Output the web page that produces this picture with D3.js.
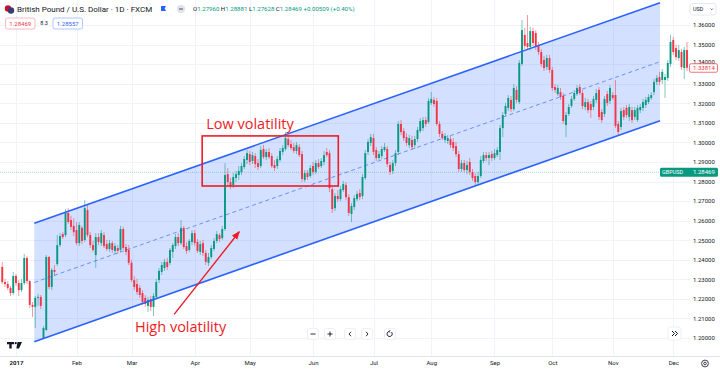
<!DOCTYPE html>
<html>
<head>
<meta charset="utf-8">
<script src="https://cdn.jsdelivr.net/npm/d3@7"></script>
<style>
	html, body { margin: 0; padding: 0; background: #fff; }
	svg { display: block; font-family: Roboto, "Noto Sans", sans-serif; }
</style>
</head>
<body>
<svg id="chart" width="720" height="371"></svg>
<script>
// GBPUSD daily bars, one per trading day, Dec 26 2016 .. Dec 8 2017
var opens = [
	1.2363, 1.2286, 1.2276, 1.2256, 1.2230, 1.2317, 1.2281, 1.2245, 1.2281, 1.2409,
	1.2291, 1.2169, 1.2159, 1.2205, 1.2210, 1.2000, 1.2041, 1.2414, 1.2261, 1.2348,
	1.2378, 1.2475, 1.2531, 1.2526, 1.2639, 1.2603, 1.2573, 1.2552, 1.2485, 1.2563,
	1.2501, 1.2654, 1.2526, 1.2475, 1.2424, 1.2516, 1.2485, 1.2526, 1.2480, 1.2455,
	1.2485, 1.2445, 1.2460, 1.2450, 1.2557, 1.2465, 1.2450, 1.2384, 1.2296, 1.2276,
	1.2256, 1.2230, 1.2205, 1.2164, 1.2199, 1.2159, 1.2210, 1.2296, 1.2338, 1.2358,
	1.2389, 1.2384, 1.2440, 1.2470, 1.2516, 1.2485, 1.2563, 1.2470, 1.2450, 1.2491,
	1.2536, 1.2491, 1.2440, 1.2485, 1.2435, 1.2384, 1.2414, 1.2455, 1.2496, 1.2526,
	1.2511, 1.2557, 1.2838, 1.2797, 1.2782, 1.2818, 1.2833, 1.2849, 1.2874, 1.2910,
	1.2940, 1.2905, 1.2930, 1.2894, 1.2879, 1.2966, 1.2925, 1.2951, 1.2930, 1.2884,
	1.2879, 1.2910, 1.2951, 1.2966, 1.3017, 1.2991, 1.2976, 1.2956, 1.2976, 1.2940,
	1.2808, 1.2843, 1.2828, 1.2879, 1.2849, 1.2894, 1.2879, 1.2900, 1.2951, 1.2945,
	1.2761, 1.2664, 1.2726, 1.2710, 1.2756, 1.2782, 1.2720, 1.2634, 1.2670, 1.2710,
	1.2741, 1.2726, 1.2818, 1.2951, 1.2997, 1.3022, 1.2961, 1.2920, 1.2930, 1.2961,
	1.2966, 1.2884, 1.2854, 1.2894, 1.2951, 1.3094, 1.3058, 1.3027, 1.2986, 1.3012,
	1.2986, 1.3017, 1.3058, 1.3073, 1.3114, 1.3104, 1.3201, 1.3217, 1.3212, 1.3094,
	1.3043, 1.3012, 1.3007, 1.3017, 1.3002, 1.2981, 1.2940, 1.2864, 1.2894, 1.2859,
	1.2900, 1.2849, 1.2828, 1.2797, 1.2828, 1.2905, 1.2935, 1.2920, 1.2940, 1.2920,
	1.2935, 1.2951, 1.3073, 1.3145, 1.3176, 1.3217, 1.3170, 1.3268, 1.3206, 1.3401,
	1.3549, 1.3508, 1.3488, 1.3569, 1.3559, 1.3498, 1.3462, 1.3421, 1.3385, 1.3431,
	1.3370, 1.3283, 1.3247, 1.3257, 1.3237, 1.3089, 1.3145, 1.3186, 1.3222, 1.3247,
	1.3283, 1.3252, 1.3181, 1.3206, 1.3196, 1.3181, 1.3217, 1.3268, 1.3155, 1.3145,
	1.3247, 1.3212, 1.3242, 1.3242, 1.3094, 1.3079, 1.3165, 1.3176, 1.3130, 1.3165,
	1.3130, 1.3114, 1.3165, 1.3176, 1.3191, 1.3206, 1.3227, 1.3257, 1.3309, 1.3334,
	1.3319, 1.3319, 1.3329, 1.3401, 1.3523, 1.3482, 1.3431, 1.3462, 1.3380, 1.3472
];
var highs = [
	1.2389, 1.2302, 1.2291, 1.2266, 1.2338, 1.2328, 1.2296, 1.2302, 1.2430, 1.2419,
	1.2296, 1.2184, 1.2215, 1.2225, 1.2220, 1.2061, 1.2424, 1.2419, 1.2358, 1.2373,
	1.2526, 1.2536, 1.2541, 1.2659, 1.2664, 1.2624, 1.2613, 1.2593, 1.2593, 1.2573,
	1.2705, 1.2680, 1.2541, 1.2496, 1.2536, 1.2536, 1.2552, 1.2541, 1.2501, 1.2501,
	1.2496, 1.2485, 1.2475, 1.2573, 1.2568, 1.2480, 1.2475, 1.2399, 1.2317, 1.2302,
	1.2271, 1.2245, 1.2220, 1.2210, 1.2215, 1.2230, 1.2302, 1.2358, 1.2389, 1.2404,
	1.2409, 1.2460, 1.2485, 1.2531, 1.2536, 1.2603, 1.2573, 1.2491, 1.2506, 1.2552,
	1.2552, 1.2506, 1.2496, 1.2501, 1.2450, 1.2435, 1.2475, 1.2511, 1.2547, 1.2536,
	1.2573, 1.2894, 1.2869, 1.2818, 1.2843, 1.2854, 1.2879, 1.2894, 1.2930, 1.2961,
	1.2956, 1.2951, 1.2945, 1.2915, 1.2981, 1.2986, 1.2966, 1.2971, 1.2945, 1.2910,
	1.2930, 1.2971, 1.2986, 1.3053, 1.3038, 1.3012, 1.2997, 1.3002, 1.2991, 1.2956,
	1.2859, 1.2859, 1.2884, 1.2900, 1.2910, 1.2915, 1.2920, 1.2956, 1.2971, 1.2961,
	1.2777, 1.2741, 1.2756, 1.2777, 1.2803, 1.2797, 1.2736, 1.2690, 1.2731, 1.2751,
	1.2761, 1.2838, 1.2961, 1.3017, 1.3043, 1.3043, 1.2976, 1.2956, 1.2981, 1.2997,
	1.2981, 1.2900, 1.2910, 1.2961, 1.3109, 1.3114, 1.3073, 1.3048, 1.3038, 1.3033,
	1.3033, 1.3079, 1.3124, 1.3130, 1.3130, 1.3227, 1.3258, 1.3232, 1.3227, 1.3109,
	1.3058, 1.3048, 1.3038, 1.3033, 1.3022, 1.3002, 1.2956, 1.2910, 1.2910, 1.2905,
	1.2920, 1.2864, 1.2843, 1.2849, 1.2930, 1.2951, 1.2951, 1.2951, 1.2956, 1.2966,
	1.2976, 1.3089, 1.3155, 1.3201, 1.3242, 1.3237, 1.3298, 1.3288, 1.3421, 1.3626,
	1.3585, 1.3651, 1.3590, 1.3585, 1.3574, 1.3513, 1.3477, 1.3442, 1.3447, 1.3447,
	1.3385, 1.3298, 1.3293, 1.3278, 1.3252, 1.3155, 1.3196, 1.3237, 1.3268, 1.3293,
	1.3298, 1.3268, 1.3227, 1.3222, 1.3212, 1.3237, 1.3273, 1.3283, 1.3170, 1.3237,
	1.3263, 1.3293, 1.3257, 1.3319, 1.3109, 1.3176, 1.3181, 1.3191, 1.3196, 1.3181,
	1.3181, 1.3191, 1.3196, 1.3222, 1.3232, 1.3247, 1.3257, 1.3324, 1.3344, 1.3360,
	1.3375, 1.3349, 1.3421, 1.3549, 1.3539, 1.3498, 1.3498, 1.3477, 1.3488, 1.3513
];
var lows = [
	1.2276, 1.2261, 1.2245, 1.2215, 1.2220, 1.2266, 1.2215, 1.2235, 1.2271, 1.2276,
	1.2154, 1.2107, 1.2051, 1.2164, 1.2148, 1.1995, 1.2036, 1.2250, 1.2245, 1.2317,
	1.2368, 1.2465, 1.2506, 1.2516, 1.2583, 1.2552, 1.2521, 1.2475, 1.2470, 1.2480,
	1.2491, 1.2516, 1.2460, 1.2440, 1.2358, 1.2475, 1.2470, 1.2460, 1.2445, 1.2440,
	1.2435, 1.2430, 1.2430, 1.2440, 1.2450, 1.2424, 1.2373, 1.2286, 1.2245, 1.2220,
	1.2205, 1.2169, 1.2159, 1.2133, 1.2138, 1.2112, 1.2199, 1.2281, 1.2322, 1.2343,
	1.2348, 1.2373, 1.2409, 1.2455, 1.2470, 1.2475, 1.2455, 1.2430, 1.2440, 1.2475,
	1.2470, 1.2435, 1.2424, 1.2419, 1.2373, 1.2368, 1.2404, 1.2445, 1.2485, 1.2491,
	1.2501, 1.2547, 1.2782, 1.2761, 1.2766, 1.2797, 1.2808, 1.2833, 1.2864, 1.2889,
	1.2884, 1.2889, 1.2869, 1.2859, 1.2869, 1.2915, 1.2910, 1.2915, 1.2869, 1.2854,
	1.2864, 1.2900, 1.2935, 1.2956, 1.2976, 1.2961, 1.2945, 1.2940, 1.2925, 1.2797,
	1.2797, 1.2808, 1.2818, 1.2833, 1.2838, 1.2864, 1.2869, 1.2884, 1.2925, 1.2746,
	1.2639, 1.2649, 1.2695, 1.2700, 1.2746, 1.2705, 1.2624, 1.2593, 1.2654, 1.2700,
	1.2705, 1.2710, 1.2808, 1.2935, 1.2981, 1.2935, 1.2905, 1.2910, 1.2915, 1.2951,
	1.2874, 1.2833, 1.2838, 1.2879, 1.2935, 1.3038, 1.3007, 1.2981, 1.2971, 1.2961,
	1.2966, 1.3002, 1.3048, 1.3058, 1.3079, 1.3094, 1.3191, 1.3181, 1.3084, 1.3027,
	1.3012, 1.2997, 1.2991, 1.2971, 1.2956, 1.2925, 1.2849, 1.2849, 1.2849, 1.2838,
	1.2833, 1.2803, 1.2782, 1.2787, 1.2818, 1.2894, 1.2905, 1.2884, 1.2905, 1.2910,
	1.2925, 1.2910, 1.3027, 1.3135, 1.3160, 1.3155, 1.3160, 1.3201, 1.3196, 1.3391,
	1.3477, 1.3472, 1.3472, 1.3493, 1.3472, 1.3447, 1.3385, 1.3365, 1.3370, 1.3355,
	1.3263, 1.3252, 1.3237, 1.3217, 1.3094, 1.3027, 1.3135, 1.3176, 1.3212, 1.3237,
	1.3242, 1.3170, 1.3165, 1.3150, 1.3125, 1.3165, 1.3201, 1.3114, 1.3099, 1.3130,
	1.3186, 1.3196, 1.3217, 1.3073, 1.3038, 1.3063, 1.3114, 1.3125, 1.3109, 1.3099,
	1.3114, 1.3104, 1.3150, 1.3160, 1.3176, 1.3196, 1.3217, 1.3242, 1.3293, 1.3293,
	1.3298, 1.3227, 1.3314, 1.3385, 1.3447, 1.3421, 1.3416, 1.3370, 1.3324, 1.3365
];
var closes = [
	1.2286, 1.2276, 1.2256, 1.2230, 1.2317, 1.2281, 1.2245, 1.2281, 1.2409, 1.2291,
	1.2169, 1.2159, 1.2205, 1.2210, 1.2164, 1.2051, 1.2414, 1.2261, 1.2348, 1.2338,
	1.2475, 1.2521, 1.2516, 1.2639, 1.2593, 1.2568, 1.2541, 1.2485, 1.2578, 1.2496,
	1.2664, 1.2526, 1.2475, 1.2450, 1.2516, 1.2491, 1.2536, 1.2470, 1.2455, 1.2485,
	1.2450, 1.2470, 1.2445, 1.2557, 1.2460, 1.2440, 1.2384, 1.2296, 1.2261, 1.2235,
	1.2220, 1.2184, 1.2174, 1.2194, 1.2159, 1.2215, 1.2286, 1.2343, 1.2373, 1.2389,
	1.2363, 1.2450, 1.2475, 1.2516, 1.2485, 1.2563, 1.2465, 1.2445, 1.2496, 1.2536,
	1.2485, 1.2445, 1.2480, 1.2435, 1.2389, 1.2414, 1.2460, 1.2496, 1.2531, 1.2506,
	1.2557, 1.2833, 1.2797, 1.2777, 1.2823, 1.2838, 1.2854, 1.2879, 1.2915, 1.2945,
	1.2900, 1.2935, 1.2889, 1.2874, 1.2961, 1.2925, 1.2951, 1.2925, 1.2879, 1.2869,
	1.2915, 1.2956, 1.2971, 1.3022, 1.2986, 1.2971, 1.2956, 1.2986, 1.2935, 1.2813,
	1.2843, 1.2823, 1.2869, 1.2849, 1.2894, 1.2874, 1.2905, 1.2935, 1.2935, 1.2766,
	1.2659, 1.2726, 1.2710, 1.2761, 1.2787, 1.2720, 1.2639, 1.2675, 1.2715, 1.2736,
	1.2720, 1.2823, 1.2945, 1.3002, 1.3027, 1.2951, 1.2920, 1.2940, 1.2966, 1.2976,
	1.2889, 1.2849, 1.2894, 1.2945, 1.3094, 1.3053, 1.3022, 1.2997, 1.3022, 1.2976,
	1.3017, 1.3063, 1.3109, 1.3114, 1.3094, 1.3212, 1.3222, 1.3196, 1.3094, 1.3043,
	1.3022, 1.3033, 1.3022, 1.2986, 1.2971, 1.2940, 1.2864, 1.2894, 1.2859, 1.2884,
	1.2849, 1.2818, 1.2797, 1.2828, 1.2910, 1.2935, 1.2920, 1.2935, 1.2920, 1.2945,
	1.2961, 1.3073, 1.3140, 1.3186, 1.3227, 1.3170, 1.3278, 1.3217, 1.3406, 1.3574,
	1.3493, 1.3488, 1.3569, 1.3508, 1.3488, 1.3462, 1.3401, 1.3380, 1.3431, 1.3370,
	1.3278, 1.3268, 1.3278, 1.3232, 1.3109, 1.3140, 1.3181, 1.3222, 1.3252, 1.3278,
	1.3252, 1.3186, 1.3206, 1.3165, 1.3165, 1.3222, 1.3252, 1.3130, 1.3114, 1.3222,
	1.3201, 1.3278, 1.3227, 1.3084, 1.3053, 1.3160, 1.3130, 1.3140, 1.3181, 1.3114,
	1.3165, 1.3176, 1.3181, 1.3206, 1.3217, 1.3232, 1.3242, 1.3309, 1.3329, 1.3309,
	1.3360, 1.3334, 1.3406, 1.3513, 1.3462, 1.3436, 1.3472, 1.3385, 1.3472, 1.33814
];

// time axis: bar index where each month starts
var monthBars = [5, 27, 47, 70, 90, 113, 135, 156, 179, 200, 222, 244];
var monthLabels = ["2017", "Feb", "Mar", "Apr", "May", "Jun", "Jul", "Aug", "Sep", "Oct", "Nov", "Dec"];
var priceTicks = [1.20, 1.21, 1.22, 1.23, 1.24, 1.25, 1.26, 1.27, 1.28, 1.29, 1.30, 1.31, 1.32, 1.33, 1.34, 1.35, 1.36];

// parallel channel drawing, anchored in (bar, price)
var channelBars = [11.65, 239.2];
var channelUpper = [1.2587, 1.3714];
var channelLower = [1.1981, 1.3111];

// annotations, anchored in (bar, price)
var boxBars = [72.7, 122.2];
var boxPrices = [1.3033, 1.2777];
var arrowBars = [62.5, 86.2];
var arrowPrices = [1.2121, 1.2543];

var legendOHLC = ["1.27960", "1.28881", "1.27628", "1.28469"];
var legendChange = "+0.00509 (+0.40%)";
var crossPrice = 1.28469;
var lastPrice = 1.33814;

var UP = "#089981", DOWN = "#f23645", TXT = "#131722", ANN = "#ee1c25";
var plotRight = 690, axisTop = 356;

var svg = d3.select("#chart");
var xScale = d3.scaleLinear().domain([0, closes.length - 1]).range([2.25, 687]);
var yScale = d3.scaleLinear().domain([1.20, 1.36]).range([338, 25]);

var bars = closes.map(function(c, i) {
	return { i: i, o: opens[i], h: highs[i], l: lows[i], c: c };
});

var defs = svg.append("defs");
defs.append("clipPath").attr("id", "plot")
	.append("rect").attr("width", plotRight).attr("height", axisTop);

// grid
var grid = svg.append("g");
grid.selectAll("line.h").data(priceTicks).enter().append("line")
	.attr("x1", 0).attr("x2", plotRight)
	.attr("y1", function(d) { return Math.round(yScale(d)) + 0.5; })
	.attr("y2", function(d) { return Math.round(yScale(d)) + 0.5; })
	.attr("stroke", "#f0f3fa");
grid.selectAll("line.v").data(monthBars).enter().append("line")
	.attr("x1", function(d) { return Math.round(xScale(d)) + 0.5; })
	.attr("x2", function(d) { return Math.round(xScale(d)) + 0.5; })
	.attr("y1", 0).attr("y2", axisTop)
	.attr("stroke", "#f0f3fa");

var plot = svg.append("g").attr("clip-path", "url(#plot)");

// channel fill
var cx = channelBars.map(xScale);
var up = channelUpper.map(yScale), lo = channelLower.map(yScale);
plot.append("path")
	.attr("d", "M" + cx[0] + "," + up[0] + "L" + cx[1] + "," + up[1] + "L" + cx[1] + "," + lo[1] + "L" + cx[0] + "," + lo[0] + "Z")
	.attr("fill", "#2962ff").attr("fill-opacity", 0.2);

// price line for the hovered bar
plot.append("line")
	.attr("x1", 0).attr("x2", plotRight)
	.attr("y1", yScale(crossPrice)).attr("y2", yScale(crossPrice))
	.attr("stroke", UP).attr("stroke-opacity", 0.35).attr("stroke-dasharray", "1,1");

// candles
var candle = plot.selectAll("g.bar").data(bars).enter().append("g");
candle.append("line")
	.attr("x1", function(d) { return xScale(d.i); })
	.attr("x2", function(d) { return xScale(d.i); })
	.attr("y1", function(d) { return yScale(d.h); })
	.attr("y2", function(d) { return yScale(d.l); })
	.attr("stroke", function(d) { return d.c >= d.o ? UP : DOWN; })
	.attr("stroke-width", 0.7).attr("stroke-opacity", 0.75);
candle.append("rect")
	.attr("x", function(d) { return xScale(d.i) - 0.95; })
	.attr("width", 1.9)
	.attr("y", function(d) { return yScale(Math.max(d.o, d.c)); })
	.attr("height", function(d) { return Math.max(0.8, Math.abs(yScale(d.o) - yScale(d.c))); })
	.attr("fill", function(d) { return d.c >= d.o ? UP : DOWN; });

// channel lines
plot.append("line").attr("x1", cx[0]).attr("y1", up[0]).attr("x2", cx[1]).attr("y2", up[1])
	.attr("stroke", "#2962ff").attr("stroke-width", 1.6);
plot.append("line").attr("x1", cx[0]).attr("y1", lo[0]).attr("x2", cx[1]).attr("y2", lo[1])
	.attr("stroke", "#2962ff").attr("stroke-width", 1.6);
plot.append("line").attr("x1", cx[0]).attr("y1", (up[0] + lo[0]) / 2).attr("x2", cx[1]).attr("y2", (up[1] + lo[1]) / 2)
	.attr("stroke", "#2962ff").attr("stroke-opacity", 0.7).attr("stroke-width", 0.9).attr("stroke-dasharray", "4,3");

// annotations
svg.append("rect")
	.attr("x", xScale(boxBars[0])).attr("y", yScale(boxPrices[0]))
	.attr("width", xScale(boxBars[1]) - xScale(boxBars[0]))
	.attr("height", yScale(boxPrices[1]) - yScale(boxPrices[0]))
	.attr("fill", "none").attr("stroke", ANN).attr("stroke-width", 1.6);
svg.append("text").attr("x", xScale(boxBars[0]) + 4).attr("y", yScale(boxPrices[0]) - 6.5)
	.attr("font-family", "'Open Sans', sans-serif").attr("font-size", 14.5).attr("fill", ANN)
	.text("Low volatility");

defs.append("marker").attr("id", "head")
	.attr("viewBox", "0 0 10 10").attr("refX", 9).attr("refY", 5)
	.attr("markerWidth", 6).attr("markerHeight", 6).attr("orient", "auto")
	.append("path").attr("d", "M0,1L10,5L0,9Z").attr("fill", ANN);
svg.append("line")
	.attr("x1", xScale(arrowBars[0])).attr("y1", yScale(arrowPrices[0]))
	.attr("x2", xScale(arrowBars[1])).attr("y2", yScale(arrowPrices[1]))
	.attr("stroke", ANN).attr("stroke-width", 1.4).attr("marker-end", "url(#head)");
svg.append("text").attr("x", 135).attr("y", 332)
	.attr("font-family", "'Open Sans', sans-serif").attr("font-size", 14.5).attr("fill", ANN)
	.text("High volatility");

// price axis
var yAxis = svg.append("g").attr("transform", "translate(693,0)")
	.call(d3.axisRight(yScale).tickValues(priceTicks).tickFormat(d3.format(".5f")).tickSize(0).tickPadding(0));
yAxis.select(".domain").remove();
yAxis.selectAll("text").attr("font-family", "Roboto, sans-serif").attr("font-size", 6).attr("fill", TXT)
	// the tick right above the last-price badge sits a bit higher, as on screen
	.attr("transform", function(d) { return Math.abs(yScale(d) - yScale(lastPrice)) < 6 ? "translate(0,-3)" : null; });

// time axis
svg.append("line").attr("x1", 0).attr("x2", 720).attr("y1", axisTop + 0.5).attr("y2", axisTop + 0.5)
	.attr("stroke", "#e0e3eb");
var xAxis = svg.append("g").attr("transform", "translate(0," + (axisTop + 5) + ")")
	.call(d3.axisBottom(xScale).tickValues(monthBars)
		.tickFormat(function(d, i) { return monthLabels[i]; }).tickSize(0).tickPadding(0));
xAxis.select(".domain").remove();
xAxis.selectAll("text").attr("font-family", "Roboto, sans-serif").attr("font-size", 6).attr("fill", TXT)
	.attr("font-weight", function(d, i) { return i === 0 ? "bold" : null; });

// price labels on the scale
svg.append("rect").attr("x", 660).attr("y", yScale(crossPrice) - 4.5).attr("width", 58).attr("height", 9)
	.attr("rx", 1.5).attr("fill", UP);
svg.append("text").attr("x", 662).attr("y", yScale(crossPrice)).attr("dy", "0.35em")
	.attr("font-size", 5.5).attr("fill", "#fff").text("GBPUSD");
svg.append("text").attr("x", 693).attr("y", yScale(crossPrice)).attr("dy", "0.35em")
	.attr("font-size", 6).attr("fill", "#fff").text(d3.format(".5f")(crossPrice));

svg.append("rect").attr("x", 689.5).attr("y", yScale(lastPrice) - 4).attr("width", 28).attr("height", 8.5)
	.attr("rx", 1.5).attr("fill", "#fff").attr("stroke", DOWN).attr("stroke-width", 0.7);
svg.append("text").attr("x", 693).attr("y", yScale(lastPrice) + 0.3).attr("dy", "0.35em")
	.attr("font-size", 6).attr("fill", DOWN).text(d3.format(".5f")(lastPrice));

// legend
var head = svg.append("g");
head.append("circle").attr("cx", 8).attr("cy", 8.5).attr("r", 3.2).attr("fill", "#c8102e");
head.append("circle").attr("cx", 11).attr("cy", 10.5).attr("r", 3.2).attr("fill", "#3c3b6e");
head.append("text").attr("x", 17).attr("y", 9).attr("dy", "0.35em")
	.attr("font-size", 8).attr("fill", TXT).text("British Pound / U.S. Dollar \u00b7 1D \u00b7 FXCM");
head.append("path").attr("d", "M161,6h5l-1.3,2.5l1.3,2.5h-5z").attr("fill", "#2962ff");
head.append("circle").attr("cx", 181).attr("cy", 9).attr("r", 4.2).attr("fill", "#e0e3eb");
head.append("line").attr("x1", 179).attr("x2", 183).attr("y1", 9).attr("y2", 9).attr("stroke", "#50535e");

var ohlc = head.append("text").attr("x", 193).attr("y", 9).attr("dy", "0.35em").attr("font-size", 6.1);
["O", "H", "L", "C"].forEach(function(k, i) {
	ohlc.append("tspan").attr("fill", TXT).text((i ? " " : "") + k);
	ohlc.append("tspan").attr("fill", UP).text(legendOHLC[i]);
});
ohlc.append("tspan").attr("fill", UP).text(" " + legendChange);

head.append("rect").attr("x", 5.5).attr("y", 18).attr("width", 29.5).attr("height", 11).attr("rx", 2)
	.attr("fill", "#fff").attr("stroke", "#f7a6ad").attr("stroke-width", 0.8);
head.append("text").attr("x", 20.25).attr("y", 23.5).attr("dy", "0.35em").attr("text-anchor", "middle")
	.attr("font-size", 6).attr("fill", DOWN).text("1.28469");
head.append("text").attr("x", 44).attr("y", 23.5).attr("dy", "0.35em").attr("text-anchor", "middle")
	.attr("font-size", 5.5).attr("fill", TXT).text("8.3");
head.append("rect").attr("x", 53).attr("y", 18).attr("width", 29.5).attr("height", 11).attr("rx", 2)
	.attr("fill", "#fff").attr("stroke", "#9db6ff").attr("stroke-width", 0.8);
head.append("text").attr("x", 67.75).attr("y", 23.5).attr("dy", "0.35em").attr("text-anchor", "middle")
	.attr("font-size", 6).attr("fill", "#2962ff").text("1.28557");

// currency box
head.append("rect").attr("x", 690).attr("y", 3.5).attr("width", 26).attr("height", 11.5).attr("rx", 2)
	.attr("fill", "#fff").attr("stroke", "#e0e3eb").attr("stroke-width", 0.8);
head.append("text").attr("x", 693).attr("y", 9.3).attr("dy", "0.35em")
	.attr("font-size", 5.5).attr("fill", TXT).text("USD");
head.append("path").attr("d", "M710.5,8.5l1.3,1.3l1.3,-1.3").attr("fill", "none").attr("stroke", TXT).attr("stroke-width", 0.6);

// navigation buttons, icons as small paths
var nav = [
	{ x: 313, d: "M-2.5,0h5" },
	{ x: 330, d: "M-2.5,0h5M0,-2.5v5" },
	{ x: 350, d: "M1,-2.2l-2,2.2l2,2.2" },
	{ x: 367, d: "M-1,-2.2l2,2.2l-2,2.2" },
	{ x: 390, d: "M-1,-2.6a2.6,2.6 0 1 0 2.4,0.6M-1,-2.6l1.2,-1.2M-1,-2.6l1.2,1.1" }
];
var navG = svg.selectAll("g.nav").data(nav).enter().append("g")
	.attr("transform", function(d) { return "translate(" + d.x + ",334)"; });
navG.append("rect").attr("x", -5.5).attr("y", -5.5).attr("width", 11).attr("height", 11).attr("rx", 2.5)
	.attr("fill", "#fff").attr("stroke", "#e9ebf1").attr("stroke-width", 0.8);
navG.append("path").attr("d", function(d) { return d.d; })
	.attr("fill", "none").attr("stroke", TXT).attr("stroke-width", 0.9);

svg.append("rect").attr("x", 668).attr("y", 327).attr("width", 13).attr("height", 13).attr("rx", 2.5)
	.attr("fill", "#fff").attr("stroke", "#e9ebf1").attr("stroke-width", 0.8);
svg.append("path").attr("d", "M672,331l2.5,2.5l-2.5,2.5M675,331l2.5,2.5l-2.5,2.5")
	.attr("fill", "none").attr("stroke", TXT).attr("stroke-width", 1);

// settings icon
svg.append("circle").attr("cx", 705).attr("cy", 363.5).attr("r", 3.4)
	.attr("fill", "none").attr("stroke", TXT).attr("stroke-width", 0.8);
svg.append("circle").attr("cx", 705).attr("cy", 363.5).attr("r", 1.3)
	.attr("fill", "none").attr("stroke", TXT).attr("stroke-width", 0.8);

// tv logo
svg.append("path").attr("d", "M7,342h7v2.2h-2.3v4.3h-2.4v-4.3h-2.3z M17.5,342h4.5l-3,6.5h-2.6z")
	.attr("fill", "#131722");
svg.append("circle").attr("cx", 15.7).attr("cy", 343.2).attr("r", 1.1).attr("fill", "#131722");
</script>
</body>
